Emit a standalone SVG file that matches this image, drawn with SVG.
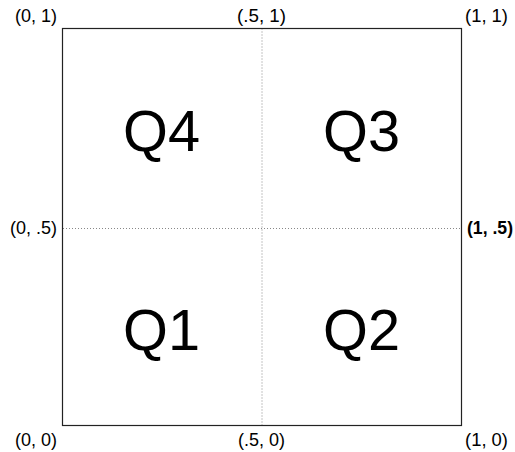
<svg xmlns="http://www.w3.org/2000/svg" width="515" height="452" viewBox="0 0 515 452">
<style>
.lbl{font-family:"Liberation Sans",Arial,sans-serif;font-size:18px;fill:#000}
.q{font-family:"Liberation Sans",Arial,sans-serif;font-size:58px;fill:#000;text-anchor:middle}
.grid{stroke:#888;stroke-width:1;stroke-dasharray:1,2;fill:none}
</style>
<rect width="515" height="452" fill="#fff"/>
<g id="connectors">
<line class="grid" x1="262" y1="28.5" x2="262" y2="425.5"/>
<line class="grid" x1="63" y1="228.5" x2="461" y2="228.5"/>
</g>
<g id="box"><rect x="62.5" y="28.5" width="399" height="397" fill="none" stroke="#222" stroke-width="1.2"/></g>
<g id="q4"><text class="q" x="161.5" y="151" textLength="77" lengthAdjust="spacingAndGlyphs">Q4</text></g>
<g id="q3"><text class="q" x="361.5" y="151" textLength="77" lengthAdjust="spacingAndGlyphs">Q3</text></g>
<g id="q1"><text class="q" x="161.5" y="350" textLength="77" lengthAdjust="spacingAndGlyphs">Q1</text></g>
<g id="q2"><text class="q" x="361.5" y="350" textLength="77" lengthAdjust="spacingAndGlyphs">Q2</text></g>
<g id="corners">
<text class="lbl" x="15" y="22" textLength="42" lengthAdjust="spacingAndGlyphs">(0, 1)</text>
<text class="lbl" x="237" y="22" textLength="49" lengthAdjust="spacingAndGlyphs">(.5, 1)</text>
<text class="lbl" x="465" y="22" textLength="43" lengthAdjust="spacingAndGlyphs">(1, 1)</text>
<text class="lbl" x="10" y="234" textLength="47" lengthAdjust="spacingAndGlyphs">(0, .5)</text>
<text class="lbl" x="467" y="234" font-weight="bold" textLength="46" lengthAdjust="spacingAndGlyphs">(1, .5)</text>
<text class="lbl" x="15" y="446" textLength="42" lengthAdjust="spacingAndGlyphs">(0, 0)</text>
<text class="lbl" x="238" y="446" textLength="47" lengthAdjust="spacingAndGlyphs">(.5, 0)</text>
<text class="lbl" x="465" y="446" textLength="43" lengthAdjust="spacingAndGlyphs">(1, 0)</text>
</g>
</svg>
